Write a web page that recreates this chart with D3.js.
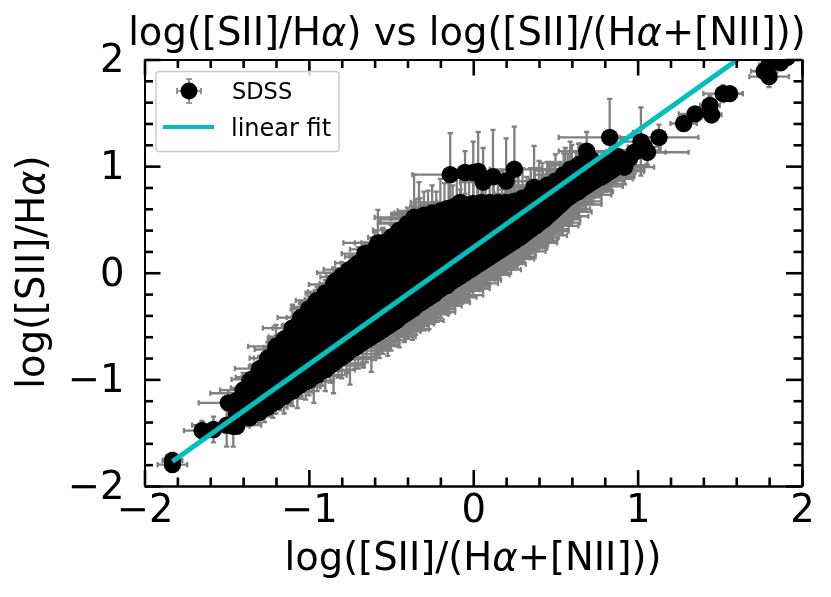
<!DOCTYPE html>
<html><head><meta charset="utf-8">
<script src="https://cdn.jsdelivr.net/npm/d3@7"></script>
<style>
html,body{margin:0;padding:0;background:#fff}
svg{display:block;filter:blur(0.6px)}
text{font-family:"DejaVu Sans",sans-serif;fill:#000}
</style></head><body>
<svg id="chart" width="831" height="597"></svg>
<script>
const majorTicks = [-2,-1,0,1,2];
const minorTicks = [-1.8,-1.6,-1.4,-1.2,-0.8,-0.6,-0.4,-0.2,0.2,0.4,0.6,0.8,1.2,1.4,1.6,1.8];

const fitX = [-1.83, 1.7];
const fitY = [-1.77, 2.1];

// dense core of the SDSS cloud: x columns and y values in each column
const coreColumnX = [-1.44,-1.36,-1.28,-1.20,-1.12,-1.04,-0.96,-0.88,-0.80,-0.72,-0.64,-0.56,-0.48,-0.40,-0.32,-0.24,-0.16,-0.08,0,0.08,0.16,0.24,0.32,0.40,0.48,0.56,0.64,0.72,0.80,0.88,0.95,
 -1.24,-1.16,-1.08,-1.00,-0.92,-0.84,-0.76,-0.68,-0.60,-0.52,-0.44,-0.36,-0.28,-0.20,-0.12,-0.04,0.04,0.12,0.20,0.28,0.36,0.44,0.52];
const coreColumnY = [
 [-1.44,-1.33,-1.20],
 [-1.36,-1.24,-1.12,-1.02],
 [-1.27,-1.15,-1.03,-0.90],
 [-1.20,-1.08,-0.96,-0.84,-0.72],
 [-1.12,-0.99,-0.87,-0.74,-0.60],
 [-1.03,-0.91,-0.78,-0.65,-0.50,-0.43],
 [-0.95,-0.83,-0.70,-0.56,-0.42,-0.30],
 [-0.87,-0.75,-0.62,-0.48,-0.34,-0.19],
 [-0.78,-0.66,-0.53,-0.40,-0.26,-0.11,-0.03],
 [-0.70,-0.58,-0.45,-0.31,-0.17,-0.03,0.06],
 [-0.62,-0.50,-0.37,-0.23,-0.09,0.05,0.17],
 [-0.54,-0.41,-0.28,-0.14,0,0.13,0.26],
 [-0.45,-0.33,-0.20,-0.06,0.08,0.22,0.35],
 [-0.37,-0.25,-0.12,0.02,0.16,0.30,0.44],
 [-0.28,-0.16,-0.03,0.10,0.24,0.38,0.50],
 [-0.20,-0.08,0.05,0.18,0.32,0.45,0.55],
 [-0.12,0,0.13,0.27,0.40,0.52,0.60],
 [-0.03,0.09,0.22,0.35,0.48,0.60,0.64],
 [0.05,0.17,0.30,0.43,0.55,0.64],
 [0.13,0.25,0.38,0.50,0.62],
 [0.21,0.33,0.46,0.58,0.65],
 [0.29,0.41,0.53,0.64],
 [0.38,0.50,0.62,0.70],
 [0.47,0.58,0.68,0.77],
 [0.61,0.71,0.82],
 [0.69,0.80,0.90],
 [0.76,0.86,0.98],
 [0.85,0.95,1.06],
 [0.92,1.02],
 [1.01,1.09],
 [1.07],
 [-1.16,-1.02,-0.88],
 [-1.07,-0.93,-0.79,-0.66],
 [-0.98,-0.84,-0.71,-0.57],
 [-0.90,-0.76,-0.62,-0.49,-0.38],
 [-0.81,-0.68,-0.54,-0.41,-0.27],
 [-0.72,-0.59,-0.46,-0.33,-0.19,-0.08],
 [-0.63,-0.50,-0.37,-0.24,-0.10,0.02],
 [-0.53,-0.40,-0.27,-0.13,0,0.10],
 [-0.46,-0.34,-0.21,-0.07,0.06,0.19],
 [-0.37,-0.26,-0.13,0.01,0.14,0.28],
 [-0.30,-0.18,-0.05,0.09,0.23,0.37],
 [-0.21,-0.09,0.04,0.17,0.31,0.45],
 [-0.12,0,0.11,0.25,0.38,0.51],
 [-0.04,0.07,0.19,0.33,0.46,0.56],
 [0.04,0.16,0.29,0.42,0.54,0.62],
 [0.13,0.25,0.37,0.50,0.61],
 [0.21,0.33,0.45,0.57],
 [0.29,0.42,0.54],
 [0.37,0.49,0.60],
 [0.45,0.57,0.66],
 [0.54,0.64,0.73],
 [0.62,0.72],
 [0.76,0.85]
];

// lower edge of the cloud
const lowX = [-1.30,-1.27,-1.25,-1.22,-1.20,-1.17,-1.15,-1.12,-1.10,-1.07,
 -1.05,-1.02,-1.00,-0.97,-0.95,-0.92,-0.90,-0.87,-0.85,-0.82,
 -0.80,-0.77,-0.75,-0.72,-0.70,-0.67,-0.65,-0.62,-0.60,-0.57,
 -0.55,-0.52,-0.50,-0.47,-0.45,-0.42,-0.40,-0.37,-0.35,-0.32,
 -0.30,-0.27,-0.25,-0.22,-0.20,-0.17,-0.15,-0.12,-0.10,-0.07,
 -0.05,-0.02,0,0.03,0.05,0.08,0.10,0.13,0.15,0.18,
 0.20,0.23,0.25,0.28,0.30,0.33,0.35,0.38,0.40,0.43,
 0.45,0.48,0.50,0.53,0.55,0.58,0.60,0.63,0.65,0.68,
 0.70,0.73,0.75,0.78,0.80,0.83,0.85,0.88];
const lowY = [-1.31,-1.27,-1.26,-1.22,-1.21,-1.17,-1.16,-1.12,-1.11,-1.07,
 -1.05,-1.02,-1.01,-0.97,-0.96,-0.92,-0.91,-0.87,-0.85,-0.81,
 -0.79,-0.76,-0.73,-0.70,-0.68,-0.65,-0.63,-0.60,-0.58,-0.55,
 -0.53,-0.50,-0.48,-0.45,-0.42,-0.39,-0.37,-0.34,-0.31,-0.28,
 -0.26,-0.23,-0.21,-0.17,-0.15,-0.12,-0.10,-0.07,-0.05,-0.02,
 0,0.03,0.05,0.08,0.10,0.13,0.15,0.18,0.20,0.23,
 0.25,0.28,0.30,0.33,0.35,0.39,0.41,0.44,0.47,0.50,
 0.53,0.57,0.60,0.64,0.67,0.71,0.73,0.76,0.78,0.81,
 0.83,0.86,0.88,0.90,0.92,0.95,0.97,1.01];
const lowXErr = [.10,.09,.12,.11,.10,.13,.11,.15,.12,.14,
 .13,.16,.15,.14,.18,.16,.18,.21,.17,.20,
 .21,.19,.23,.21,.25,.22,.24,.27,.23,.25,
 .28,.25,.26,.29,.25,.27,.29,.26,.28,.30,
 .27,.29,.31,.28,.30,.27,.30,.29,.26,.29,
 .28,.31,.27,.29,.26,.29,.28,.25,.29,.27,
 .25,.28,.26,.24,.27,.25,.23,.26,.25,.22,
 .25,.24,.21,.25,.23,.20,.24,.22,.19,.23,
 .21,.19,.22,.20,.18,.21,.19,.17];
const lowYErr = [.10,.13,.09,.14,.11,.12,.16,.12,.14,.20,
 .13,.17,.14,.25,.15,.14,.20,.16,.28,.17,
 .20,.18,.32,.20,.22,.24,.21,.33,.24,.25,
 .23,.28,.25,.24,.28,.26,.25,.29,.27,.26,
 .28,.30,.26,.29,.27,.26,.28,.27,.25,.27,
 .26,.25,.27,.25,.24,.26,.25,.23,.25,.24,
 .22,.25,.23,.22,.24,.22,.21,.23,.22,.20,
 .21,.20,.22,.19,.20,.18,.20,.17,.19,.17,
 .18,.16,.17,.15,.16,.16,.14,.14];

// second row along the lower edge, where the grey is solid
const low2X = [-0.585,-0.56,-0.535,-0.51,-0.485,-0.46,-0.435,-0.41,-0.385,-0.36,
 -0.335,-0.31,-0.285,-0.26,-0.235,-0.21,-0.185,-0.16,-0.135,-0.11,
 -0.085,-0.06,-0.035,-0.01,0.015,0.04,0.065,0.09,0.115,0.14,
 0.165,0.19,0.215,0.24,0.265,0.29,0.315,0.34,0.365,0.39,
 0.415,0.44,0.465,0.49,0.515,0.54,0.565,0.59,0.615,0.64,
 0.665,0.69,0.715,0.74,0.765,0.79,0.815,0.84,0.865,0.89];
const low2Y = [-0.565,-0.54,-0.515,-0.49,-0.465,-0.44,-0.405,-0.38,-0.355,-0.33,
 -0.295,-0.27,-0.245,-0.22,-0.195,-0.16,-0.135,-0.11,-0.085,-0.06,
 -0.035,-0.01,0.015,0.04,0.065,0.09,0.115,0.14,0.165,0.19,
 0.215,0.24,0.265,0.29,0.315,0.34,0.37,0.40,0.425,0.455,
 0.485,0.515,0.55,0.585,0.62,0.655,0.69,0.72,0.745,0.77,
 0.795,0.82,0.845,0.87,0.89,0.91,0.935,0.96,0.99,1.02];
const low2XErr = [.21,.24,.22,.20,.25,.23,.21,.25,.23,.22,
 .24,.22,.26,.23,.21,.25,.23,.26,.22,.24,
 .25,.22,.24,.26,.22,.24,.21,.25,.23,.20,
 .23,.21,.24,.20,.22,.19,.23,.20,.18,.21,
 .19,.21,.18,.20,.17,.19,.16,.18,.15,.17,
 .16,.14,.16,.13,.15,.12,.14,.12,.11,.10];
const low2YErr = [.19,.22,.20,.18,.22,.21,.19,.23,.21,.20,
 .22,.20,.23,.21,.19,.22,.20,.23,.21,.20,
 .22,.21,.19,.22,.20,.18,.21,.19,.22,.20,
 .18,.21,.19,.20,.18,.20,.17,.19,.18,.16,
 .18,.17,.19,.16,.17,.15,.18,.16,.14,.17,
 .15,.14,.16,.13,.15,.12,.14,.13,.11,.12];

// upper edge of the cloud
const upX = [-1.40,-1.35,-1.30,-1.25,-1.20,-1.15,-1.10,-1.05,-1.00,-0.95,
 -0.90,-0.85,-0.80,-0.75,-0.70,-0.65,-0.60,-0.55,-0.50,-0.45,
 -0.40,-0.35,-0.30,-0.25,-0.20,-0.15,-0.10,-0.05,0,0.05,
 0.10,0.15,0.20,0.25,0.30,0.35,0.40,0.45,0.50,0.55,0.60,0.65,
 -0.375,-0.325,-0.275,-0.225,-0.175,-0.125,-0.075,-0.025,0.025,0.075,
 0.125,0.175,0.225,0.275,0.325,0.375,0.425,0.475,0.525,0.575,0.625,
 -1.375,-1.325,-1.275,-1.225,-1.175,-1.125,-1.075,-1.025,-0.975,-0.925,
 -0.875,-0.825,-0.775,-0.725,-0.675,-0.625,-0.575,-0.525,-0.475,-0.425];
const upY = [-1.10,-1.00,-0.90,-0.80,-0.72,-0.62,-0.52,-0.42,-0.34,-0.26,
 -0.19,-0.11,-0.04,0.03,0.09,0.15,0.22,0.28,0.33,0.40,
 0.46,0.51,0.54,0.56,0.58,0.60,0.62,0.64,0.65,0.66,
 0.66,0.66,0.66,0.67,0.70,0.74,0.78,0.82,0.86,0.92,0.97,1.02,
 0.47,0.50,0.53,0.55,0.57,0.59,0.61,0.62,0.63,0.63,
 0.63,0.63,0.64,0.65,0.68,0.72,0.76,0.80,0.85,0.90,0.95,
 -1.08,-0.98,-0.88,-0.80,-0.70,-0.60,-0.50,-0.42,-0.32,-0.25,
 -0.18,-0.10,-0.03,0.03,0.09,0.15,0.21,0.27,0.33,0.40];
const upXErr = [.14,.12,.15,.11,.13,.10,.12,.14,.11,.13,
 .12,.15,.13,.16,.14,.13,.15,.17,.14,.16,
 .18,.15,.20,.23,.26,.22,.25,.28,.24,.27,
 .23,.26,.28,.24,.27,.22,.25,.20,.23,.18,.21,.17,
 .20,.24,.18,.27,.22,.25,.20,.26,.23,.28,
 .21,.25,.27,.22,.24,.20,.23,.18,.20,.16,.18,
 .10,.12,.09,.11,.10,.12,.09,.11,.12,.10,
 .13,.11,.12,.10,.13,.12,.11,.14,.12,.13];
const upYErr = [.16,.14,.12,.15,.13,.14,.11,.15,.12,.13,
 .12,.16,.14,.12,.15,.13,.16,.14,.12,.17,
 .15,.18,.22,.26,.30,.24,.27,.30,.26,.29,
 .25,.28,.30,.26,.28,.24,.27,.22,.25,.20,.23,.19,
 .16,.20,.24,.21,.27,.23,.28,.24,.27,.22,
 .26,.29,.24,.27,.22,.26,.21,.24,.19,.22,.18,
 .14,.12,.10,.13,.11,.12,.10,.13,.11,.12,
 .10,.14,.11,.13,.10,.12,.14,.11,.13,.12];

// individually legible points
const outX = [-1.83,-1.83,-1.65,-1.58,-1.50,-1.46,-1.34,-1.49,-1.40,-1.20,
 -1.10,-0.96,-0.75,-0.66,-0.55,-0.58,-0.36,-0.33,-0.08,-0.14,
 -0.05,0,0.03,0.06,0.12,0.20,0.25,0.37,0.42,0.46,
 0.56,0.59,0.69,0.83,0.64,1.02,1.13,0.98,1.06,1.04,
 0.92,0.82,1.28,1.35,1.44,1.45,1.52,1.56,1.77,1.80,
 1.80,1.87,1.91];
const outY = [-1.80,-1.76,-1.48,-1.47,-1.43,-1.44,-1.33,-1.22,-1.13,-0.69,
 -0.52,-0.28,0,0.18,0.28,0.28,0.52,0.50,0.66,0.92,
 0.94,0.94,0.95,0.85,0.90,0.86,0.97,0.80,0.73,0.68,
 0.87,0.97,1.14,1.27,1.01,1.23,1.27,1.13,1.13,1.18,
 0.99,1.03,1.40,1.49,1.57,1.48,1.68,1.68,1.89,1.84,
 1.95,1.97,2.02];
const outXErr = [.09,.06,.11,.09,.21,.10,.11,.18,.20,.17,
 .18,.10,.20,.14,.24,.10,.24,.12,.30,.23,
 .12,.10,.15,.14,.12,.17,.15,.18,.20,.16,
 .22,.18,.17,.31,.15,.12,.24,.33,.11,.10,
 .18,.12,.08,.10,.06,.06,.12,.08,.08,.12,
 .06,.06,.06];
const outYErr = [.05,.07,.09,.12,.20,.19,.10,.12,.16,.20,
 .22,.12,.15,.10,.14,.31,.40,.35,.12,.39,
 .20,.29,.37,.32,.44,.40,.40,.39,.30,.35,
 .30,.26,.18,.36,.20,.32,.12,.20,.12,.10,
 .16,.12,.06,.06,.09,.05,.08,.06,.06,.10,
 .05,.05,.05];

const labelTitle = ["log([SII]/H","α",") vs log([SII]/(H","α","+[NII]))"];
const labelX = ["log([SII]/(H","α","+[NII]))"];
const labelY = ["log([SII]/H","α",")"];
const legendNames = ["SDSS","linear fit"];

const black = "#000", grey = "#808080", cyan = "#00bfbf";
const plotLeft = 144.5, plotRight = 802, plotTop = 59.5, plotBottom = 486;
const x = d3.scaleLinear().domain([-2,2]).range([plotLeft,plotRight]);
const y = d3.scaleLinear().domain([-2,2]).range([plotBottom,plotTop]);
const svg = d3.select("#chart");

svg.append("defs").append("clipPath").attr("id","plot").append("rect")
  .attr("x",plotLeft).attr("y",plotTop).attr("width",plotRight-plotLeft).attr("height",plotBottom-plotTop);

// assemble points
const points = [];
coreColumnX.forEach((cx,i)=>coreColumnY[i].forEach(cy=>points.push({x:cx,y:cy,xe:0,ye:0})));
lowX.forEach((v,i)=>points.push({x:v,y:lowY[i],xe:lowXErr[i],ye:lowYErr[i]}));
low2X.forEach((v,i)=>points.push({x:v,y:low2Y[i],xe:low2XErr[i],ye:low2YErr[i]}));
upX.forEach((v,i)=>points.push({x:v,y:upY[i],xe:upXErr[i],ye:upYErr[i]}));
outX.forEach((v,i)=>points.push({x:v,y:outY[i],xe:outXErr[i],ye:outYErr[i]}));
const withErr = points.filter(d=>d.xe>0);

const plot = svg.append("g").attr("clip-path","url(#plot)");
const cap = 2.6;
const err = plot.append("g").attr("stroke",grey).attr("stroke-width",2.3).attr("fill","none");
err.selectAll("path.e").data(withErr).join("path").attr("class","e")
  .attr("d",d=>{
    const px=x(d.x),py=y(d.y),x0=x(d.x-d.xe),x1=x(d.x+d.xe),y0=y(d.y-d.ye),y1=y(d.y+d.ye);
    return `M${x0},${py}H${x1}M${px},${y0}V${y1}`+
      `M${x0},${py-cap}V${py+cap}M${x1},${py-cap}V${py+cap}`+
      `M${px-cap},${y0}H${px+cap}M${px-cap},${y1}H${px+cap}`;
  });
plot.append("g").selectAll("circle").data(points).join("circle")
  .attr("cx",d=>x(d.x)).attr("cy",d=>y(d.y)).attr("r",8.7).attr("fill",black);
plot.append("path").datum(fitX.map((v,i)=>[v,fitY[i]]))
  .attr("d",d3.line().x(d=>x(d[0])).y(d=>y(d[1])))
  .attr("stroke",cyan).attr("stroke-width",5).attr("fill","none");

// axes
const fmt = d3.format("d");
function ticks(axisFn,scale,vals,size,labels){
  const a = axisFn(scale).tickValues(vals).tickSizeOuter(0).tickSizeInner(size).tickPadding(9);
  return labels ? a.tickFormat(d=>fmt(d).replace("-","\u2212")) : a.tickFormat("");
}
function drawAxis(transform,axisFn,scale,labels){
  const g = svg.append("g").attr("transform",transform);
  g.append("g").call(ticks(axisFn,scale,minorTicks,-8.5,false));
  g.append("g").call(ticks(axisFn,scale,majorTicks,-16,labels));
  g.selectAll(".tick line").attr("stroke",black).attr("stroke-width",2.6);
  g.selectAll(".domain").attr("stroke",black).attr("stroke-width",2);
  g.selectAll("text").attr("font-size",38.5).style("font-family",'"DejaVu Sans",sans-serif').attr("fill",black);
  return g;
}
const gb = drawAxis(`translate(0,${plotBottom})`,d3.axisBottom,x,true);
const gl = drawAxis(`translate(${plotLeft},0)`,d3.axisLeft,y,true);
gl.selectAll("text").attr("dx","-11");
drawAxis(`translate(0,${plotTop})`,d3.axisTop,x,false);
drawAxis(`translate(${plotRight},0)`,d3.axisRight,y,false);
svg.selectAll(".tick text").filter(function(){return this.textContent==="";}).remove();

// labels
function richText(g,parts){
  parts.forEach((p,i)=>g.append("tspan").text(p).attr("font-style",p==="α"?"italic":"normal"));
  return g;
}
const labelSize = 38.5;
richText(svg.append("text").attr("x",467).attr("y",45).attr("text-anchor","middle").attr("font-size",labelSize),labelTitle);
richText(svg.append("text").attr("x",473).attr("y",570).attr("text-anchor","middle").attr("font-size",labelSize),labelX);
richText(svg.append("text").attr("transform","translate(44,272) rotate(-90)").attr("text-anchor","middle").attr("font-size",labelSize),labelY);

// legend
const leg = svg.append("g");
leg.append("rect").attr("x",156).attr("y",71.5).attr("width",183).attr("height",80).attr("rx",3)
  .attr("fill","#fff").attr("fill-opacity",0.8).attr("stroke","#ccc").attr("stroke-width",1.5);
const lx=189, ly=91;
leg.append("path").attr("stroke",grey).attr("stroke-width",1.7).attr("fill","none")
  .attr("d",`M${lx-12},${ly}H${lx+12}M${lx},${ly-12}V${ly+12}M${lx-12},${ly-3}V${ly+3}M${lx+12},${ly-3}V${ly+3}M${lx-3},${ly-12}H${lx+3}M${lx-3},${ly+12}H${lx+3}`);
leg.append("circle").attr("cx",lx).attr("cy",ly).attr("r",8.5).attr("fill",black);
leg.append("line").attr("x1",163).attr("x2",214).attr("y1",127).attr("y2",127).attr("stroke",cyan).attr("stroke-width",4);
leg.append("text").attr("x",232).attr("y",99).attr("font-size",22.5).text(legendNames[0]);
leg.append("text").attr("x",231).attr("y",136).attr("font-size",24).text(legendNames[1]);
</script>
</body></html>
